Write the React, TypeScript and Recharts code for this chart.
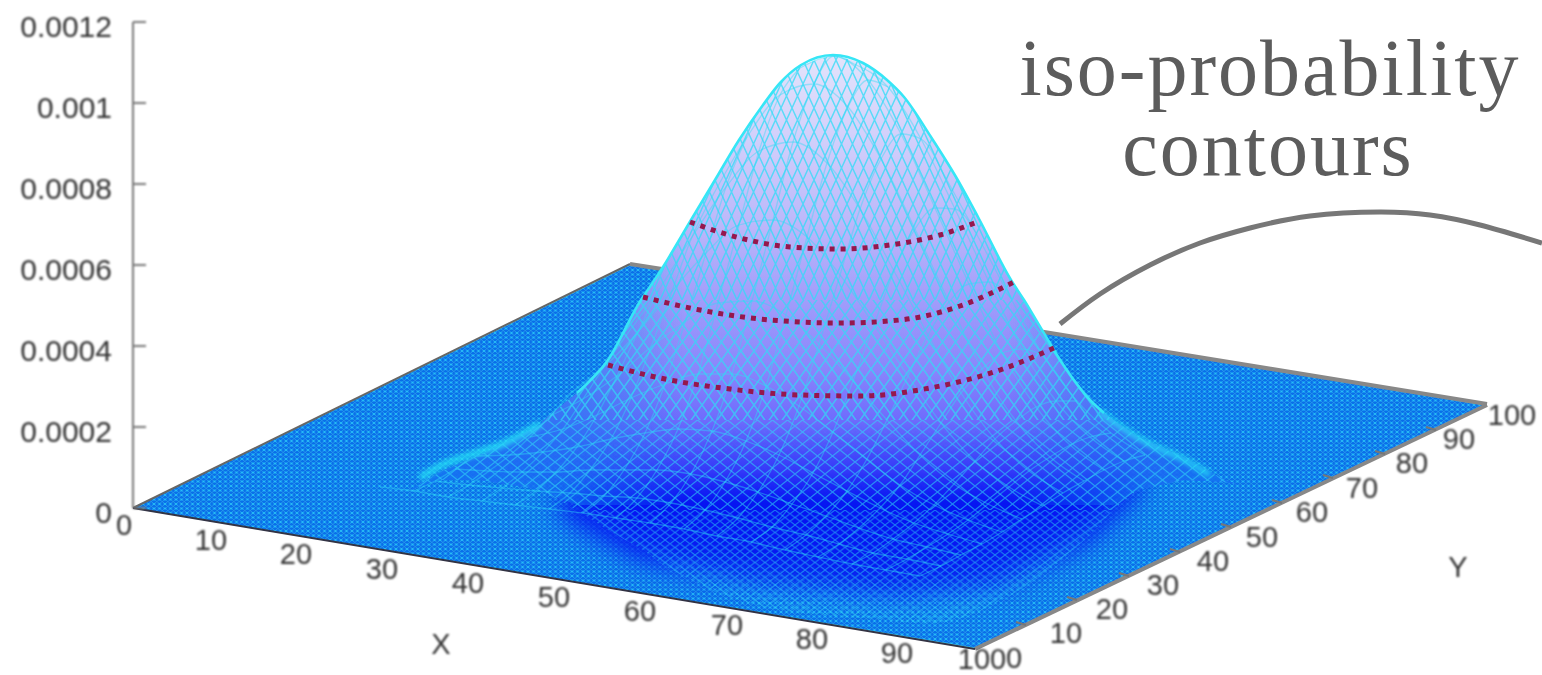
import { Area, ComposedChart, Line, Scatter, XAxis, YAxis } from "recharts";

// The original is a projected 3D surface, so everything is read off the picture
// in projected coordinates (x across, y down) and goes through hidden axes.

type Pt = [number, number];
const n = null;

const zTicks = [0, 0.0002, 0.0004, 0.0006, 0.0008, 0.001, 0.0012];
const xTickLabels = ["0", "10", "20", "30", "40", "50", "60", "70", "80", "90", "100"];
const xTickSpots: Pt[] = [[124, 525], [211, 540], [296, 554], [382, 569], [468, 583], [554, 597], [640, 611], [727, 625], [812, 639], [897, 653], [982, 659]];
const yTickLabels = ["0", "10", "20", "30", "40", "50", "60", "70", "80", "90", "100"];
const yTickSpots: Pt[] = [[1014, 658], [1066, 633], [1112, 609], [1163, 585], [1213, 561], [1262, 537], [1312, 512], [1362, 488], [1412, 463], [1459, 439], [1512, 415]];
const axisNames = ["X", "Y"];
const axisNameSpots: Pt[] = [[441, 644], [1458, 567]];

const floorEdges = [
  { x: 133, top: 508, bottom: 508 },
  { x: 630, top: 265, bottom: 591 },
  { x: 975, top: 321, bottom: 648 },
  { x: 1485, top: 405, bottom: 405 },
];
const backLeftEdge: Pt[] = [[133, 508], [630, 264]];
const backRightEdgeNear: Pt[] = [[630, 264], [662, 269]];
const backRightEdgeFar: Pt[] = [[1038, 331], [1487, 404]];
const frontLeftEdge: Pt[] = [[133, 508], [975, 649]];
const frontRightEdge: Pt[] = [[975, 649], [1487, 405]];
const yTickStubs: Pt[][] = [
  [[1026, 625], [1016, 622]], [[1077, 600], [1067, 597]], [[1129, 576], [1119, 573]],
  [[1180, 552], [1170, 549]], [[1231, 527], [1221, 524]], [[1282, 503], [1272, 500]],
  [[1333, 478], [1323, 475]], [[1385, 454], [1375, 451]], [[1436, 430], [1426, 427]],
];

const humpX = [410, 440, 480, 540, 544, 577, 608, 641, 643, 663, 691, 715, 739, 763, 780, 801, 833, 863, 887, 904, 931, 956, 978, 1011, 1024, 1042, 1062, 1090, 1104, 1113, 1138, 1183, 1225, 1240];
const humpTop = [490, 472, 455, 425, 420, 393, 360, 300, 297, 267, 220, 180, 140, 105, 83, 65, 55, 63, 80, 97, 137, 177, 217, 280, 300, 330, 363, 400, 413, 420, 437, 457, 480, 485];
const humpBottom = [490, 480, 480, 490, 492, 510, 530, 549, 550, 565, 580, 592, 600, 607, 610, 613, 616, 618, 620, 622, 624, 620, 612, 595, 587, 575, 560, 535, 520, 510, 490, 480, 482, 485];
const shadowX = [560, 640, 750, 900, 1000, 1090, 1140];
const shadowTop = [490, 450, 440, 440, 440, 440, 470];
const shadowBottom = [515, 560, 582, 596, 585, 540, 490];
const shadowSpine: Pt[] = [[640, 505], [770, 515], [900, 520], [1000, 510], [1070, 490]];
const leftStreak: Pt[] = [[420, 478], [440, 466], [470, 455], [505, 443], [540, 424]];
const rightStreak: Pt[] = [[1100, 412], [1135, 436], [1160, 449], [1185, 460], [1210, 475]];

// Surface grid, front rows first, one entry per column; n = hidden behind the ridge
const meshRows: (Pt | null)[][] = [
  [[380, 487], [414, 491], [448, 497], [482, 501], [515, 505], [549, 509], [583, 513], [616, 518], [650, 523], [684, 529], [717, 536], [751, 542], [785, 550], [818, 557], [852, 564], [886, 570], [920, 576]],
  [n, [435, 481], [469, 485], [502, 488], [536, 491], [570, 493], [604, 496], [637, 498], [671, 503], [705, 510], [738, 518], [772, 527], [806, 535], [839, 544], [873, 553], [907, 559], [941, 566]],
  [n, [455, 469], [489, 471], [522, 472], [556, 472], [590, 470], [624, 470], [657, 470], [691, 474], [725, 482], [758, 492], [792, 504], [826, 516], [859, 528], [893, 539], [927, 547], [961, 555]],
  [n, [476, 456], [510, 455], [543, 452], [577, 447], [611, 439], [645, 433], [678, 429], [712, 431], [746, 441], [779, 455], [813, 473], [847, 491], [880, 508], [914, 523], [948, 534], [982, 544]],
  [n, n, [530, 437], [563, 429], [597, 415], [631, 398], [665, 384], [698, 374], [732, 374], [766, 386], [799, 406], [833, 432], [867, 459], [900, 485], [934, 505], [968, 520], [1002, 532]],
  [n, n, [550, 416], [583, 399], [617, 376], [651, 347], [685, 322], [718, 303], [752, 301], [786, 315], [819, 344], [853, 381], [887, 420], [920, 455], [954, 484], [988, 504], [1022, 519]],
  [n, n, [571, 393], [604, 367], [638, 332], [672, 291], [706, 253], [739, 225], [773, 220], [807, 237], [840, 275], [874, 325], [908, 376], [941, 423], [975, 461], [1009, 487], [1043, 506]],
  [n, n, n, [625, 337], [658, 291], [692, 237], [726, 187], [759, 151], [793, 142], [827, 163], [860, 209], [894, 271], [928, 335], [961, 393], [995, 439], [1029, 471], [1063, 493]],
  [n, n, n, n, n, [713, 195], [747, 137], [780, 95], [814, 84], [848, 107], [881, 159], [915, 229], [949, 302], [982, 369], [1016, 421], [1050, 457], [1084, 481]],
  [n, n, n, n, n, n, n, [800, 68], [834, 56], [868, 80], [901, 134], [935, 208], [969, 284], [1002, 353], [1036, 407], [1070, 445], [1104, 470]],
  [n, n, n, n, n, n, n, n, [854, 64], [888, 87], [921, 139], [955, 209], [989, 282], [1022, 349], [1056, 401], [1090, 437], [1124, 461]],
  [n, n, n, n, n, n, n, n, n, n, [942, 171], [976, 233], [1010, 297], [1043, 355], [1077, 401], [1111, 433], [1145, 455]],
];

const isoContours: Pt[][] = [
  [[690, 222], [740, 238], [790, 247], [840, 249], [890, 245], [940, 235], [980, 221]],
  [[643, 297], [700, 310], [760, 319], [840, 323], [900, 320], [960, 306], [1016, 281]],
  [[608, 365], [660, 378], [730, 389], [800, 395], [860, 396], [930, 388], [1000, 370], [1054, 348]],
];
const leaderCurve: Pt[] = [[1060, 324], [1100, 294], [1150, 265], [1200, 243], [1250, 228], [1310, 216], [1380, 212], [1430, 215], [1480, 225], [1542, 243]];
const noteLines = ["iso-probability", "contours"];
const noteSpots: Pt[] = [[1270, 95], [1268, 175]];

const WIDTH = 1542;
const HEIGHT = 675;
const LABEL_FONT = "'Liberation Sans', Arial, sans-serif";

const toRows = (pts: Pt[]) => pts.map(([x, y]) => ({ x, y }));
const labelRows = (labels: string[], spots: Pt[]) =>
  labels.map((label, i) => ({ x: spots[i][0], y: spots[i][1], label }));

const shadowRows = shadowX.map((x, i) => ({ x, band: [shadowBottom[i], shadowTop[i]] }));
const floorRows = floorEdges.map((e) => ({ x: e.x, band: [e.bottom, e.top] }));
const outlineRows = toRows(
  humpX.map((x, i): Pt => [x, humpTop[i]]).filter(([x]) => x >= 577 && x <= 1104),
);

// one slice of the hump between two heights, zero-thick where it does not reach
const humpSlice = (from: number, to: number) =>
  humpX.map((x, i) => {
    const low = Math.max(Math.min(humpBottom[i], to), from);
    return { x, band: [low, Math.min(low, Math.max(humpTop[i], from))] };
  });

const meshColumns = meshRows[0].map((_, c) =>
  meshRows.map((row) => row[c]).filter((p): p is Pt => p !== null),
);
const meshCurves = [
  ...meshRows.map((row) => row.filter((p): p is Pt => p !== null)),
  ...meshColumns,
].filter((c) => c.length > 1);

const frameAxes = [
  <XAxis key="x" type="number" dataKey="x" domain={[0, WIDTH]} hide />,
  <YAxis key="y" type="number" dataKey="y" domain={[0, HEIGHT]} reversed hide />,
];
const FRAME = { width: WIDTH, height: HEIGHT, margin: { top: 0, right: 0, bottom: 0, left: 0 } };
const layer = (blur?: number) =>
  ({ position: "absolute", left: 0, top: 0, filter: blur ? `blur(${blur}px)` : undefined }) as const;

function SurfaceLabel(props: any) {
  const { cx, cy, payload } = props;
  return (
    <text x={cx} y={cy + 10} textAnchor="middle" fontFamily={LABEL_FONT} fontSize={29} fill="#333">
      {payload.label}
    </text>
  );
}

function NoteLabel(props: any) {
  const { cx, cy, payload } = props;
  return (
    <text x={cx} y={cy} textAnchor="middle" fontFamily="'Liberation Serif', serif" fontSize={80} letterSpacing={2} fill="#5c5c5c">
      {payload.label}
    </text>
  );
}

function ZTick(props: any) {
  const { y, payload } = props;
  return (
    <g>
      <line x1={133} x2={146} y1={y} y2={y} stroke="#777" strokeWidth={2} />
      <text x={112} y={y + 15} textAnchor="end" fontFamily={LABEL_FONT} fontSize={30} fill="#333">
        {String(payload.value)}
      </text>
    </g>
  );
}

const edge = (pts: Pt[], stroke: string, strokeWidth: number, key?: number) => (
  <Line key={key} data={toRows(pts)} dataKey="y" stroke={stroke} strokeWidth={strokeWidth} dot={false} activeDot={false} isAnimationActive={false} />
);
const sliceArea = (from: number, to: number, fill: string) => (
  <Area key={fill} data={humpSlice(from, to)} dataKey="band" stroke="none" fill={`url(#${fill})`} fillOpacity={1} dot={false} activeDot={false} isAnimationActive={false} />
);
const tile = (id: string, w: number, h: number, opacity: number, lineWidth: number) => (
  <pattern key={id} id={id} width={w} height={h} patternUnits="userSpaceOnUse">
    <path d={`M0 ${h / 2}L${w / 2} 0L${w} ${h / 2}L${w / 2} ${h}Z`} fill="none" stroke="#2fdcf6" strokeOpacity={opacity} strokeWidth={lineWidth} />
  </pattern>
);

export default function App() {
  return (
    <div style={{ position: "absolute", left: 0, top: 0, width: WIDTH, height: HEIGHT, overflow: "hidden", background: "#fff" }}>
      <div style={layer(0.5)}>
        <ComposedChart {...FRAME}>
          <defs>
            <pattern id="floorWeave" width="5.5" height="4.5" patternUnits="userSpaceOnUse">
              <rect width="5.5" height="4.5" fill="#0870ea" />
              <circle cx="2.75" cy="2.25" r="1.4" fill="#0028d8" />
              <path d="M0 0L5.5 4.5M5.5 0L0 4.5" stroke="#30d0f8" strokeWidth="0.8" />
            </pattern>
          </defs>
          {frameAxes}
          {edge(backLeftEdge, "#666", 2)}
          {edge(backRightEdgeNear, "#888", 4)}
          {edge(backRightEdgeFar, "#888", 4)}
          {edge(frontRightEdge, "#888", 4)}
          {edge(frontLeftEdge, "#334", 2)}
          {yTickStubs.map((stub, i) => edge(stub, "#777", 2, i))}
          <Area data={floorRows} dataKey="band" stroke="#35d8f8" strokeWidth={0.8} fill="url(#floorWeave)" fillOpacity={1} dot={false} activeDot={false} isAnimationActive={false} />
        </ComposedChart>
      </div>
      <div style={layer(0.9)}>
        <ComposedChart {...FRAME}>
          {frameAxes}
          <Scatter data={labelRows(xTickLabels, xTickSpots)} shape={<SurfaceLabel />} isAnimationActive={false} />
          <Scatter data={labelRows(yTickLabels, yTickSpots)} shape={<SurfaceLabel />} isAnimationActive={false} />
          <Scatter data={labelRows(axisNames, axisNameSpots)} shape={<SurfaceLabel />} isAnimationActive={false} />
        </ComposedChart>
      </div>
      <div style={layer(0.9)}>
        <ComposedChart width={150} height={HEIGHT} margin={{ top: 22, bottom: 167, left: 0, right: 0 }}>
          <XAxis type="number" dataKey="x" domain={[0, 1]} hide />
          <YAxis
            type="number"
            dataKey="z"
            width={133}
            domain={[0, 0.0012]}
            ticks={zTicks}
            interval={0}
            tickLine={false}
            axisLine={{ stroke: "#777", strokeWidth: 2 }}
            tick={<ZTick />}
          />
          <Line data={zTicks.map((z) => ({ x: 0, z }))} dataKey="z" stroke="none" dot={false} activeDot={false} isAnimationActive={false} />
        </ComposedChart>
      </div>
      <div style={layer(14)}>
        <ComposedChart {...FRAME}>
          {frameAxes}
          <Area data={shadowRows} dataKey="band" stroke="none" fill="#0612f2" fillOpacity={0.92} dot={false} activeDot={false} isAnimationActive={false} />
          <Line data={toRows(shadowSpine)} dataKey="y" type="monotone" stroke="#0612f2" strokeWidth={40} strokeLinecap="round" dot={false} activeDot={false} isAnimationActive={false} />
        </ComposedChart>
      </div>
      <div style={layer(0.5)}>
        <ComposedChart {...FRAME}>
          <defs>
            {tile("weaveTop", 11, 24, 0.75, 1.5)}
            {tile("weaveMid", 13, 18, 0.7, 1.5)}
            {tile("weaveLow", 15, 12, 0.55, 1.2)}
            {tile("weaveFront", 10, 7.5, 0.5, 1)}
            <linearGradient id="humpShade" x1="0" y1="0" x2="0" y2="1">
              <stop offset="0.01" stopColor="#e2e2fb" />
              <stop offset="0.13" stopColor="#d4d2fb" />
              <stop offset="0.295" stopColor="#bcb8fa" />
              <stop offset="0.435" stopColor="#a09cfb" />
              <stop offset="0.55" stopColor="#8a86fc" />
              <stop offset="0.64" stopColor="#6f6cfd" />
              <stop offset="0.73" stopColor="#4444fb" stopOpacity="0.75" />
              <stop offset="0.79" stopColor="#3030fa" stopOpacity="0" />
            </linearGradient>
            <linearGradient id="skirtShade" x1="0" y1="0" x2="1" y2="0">
              <stop offset="0" stopColor="#0f78f0" stopOpacity="0.9" />
              <stop offset="0.2" stopColor="#0f78f0" stopOpacity="0.55" />
              <stop offset="0.33" stopColor="#0f78f0" stopOpacity="0" />
              <stop offset="0.72" stopColor="#0f78f0" stopOpacity="0" />
              <stop offset="0.85" stopColor="#0f78f0" stopOpacity="0.5" />
              <stop offset="1" stopColor="#0f78f0" stopOpacity="0.9" />
            </linearGradient>
          </defs>
          {frameAxes}
          {sliceArea(55, 624, "humpShade")}
          {sliceArea(55, 505, "skirtShade")}
          {sliceArea(55, 300, "weaveTop")}
          {sliceArea(300, 420, "weaveMid")}
          {sliceArea(420, 510, "weaveLow")}
          {sliceArea(510, 625, "weaveFront")}
          {meshCurves.map((curve, i) => (
            <Line key={i} data={toRows(curve)} dataKey="y" type="monotone" stroke="#2fdcf6" strokeOpacity={0.42} strokeWidth={1.3} dot={false} activeDot={false} isAnimationActive={false} />
          ))}
          <Line data={outlineRows} dataKey="y" type="monotone" stroke="#36e6f6" strokeWidth={2.6} dot={false} activeDot={false} isAnimationActive={false} />
        </ComposedChart>
      </div>
      <div style={layer(2.5)}>
        <ComposedChart {...FRAME}>
          {frameAxes}
          <Line data={toRows(leftStreak)} dataKey="y" type="monotone" stroke="#25e4f6" strokeOpacity={0.8} strokeWidth={7} dot={false} activeDot={false} isAnimationActive={false} />
          <Line data={toRows(rightStreak)} dataKey="y" type="monotone" stroke="#25e4f6" strokeOpacity={0.7} strokeWidth={7} dot={false} activeDot={false} isAnimationActive={false} />
        </ComposedChart>
      </div>
      <div style={layer()}>
        <ComposedChart {...FRAME}>
          {frameAxes}
          {isoContours.map((curve, i) => (
            <Line key={i} data={toRows(curve)} dataKey="y" type="monotone" stroke="#96174d" strokeWidth={5} strokeDasharray="5 6" dot={false} activeDot={false} isAnimationActive={false} />
          ))}
          <Line data={toRows(leaderCurve)} dataKey="y" type="natural" stroke="#777" strokeWidth={5} dot={false} activeDot={false} isAnimationActive={false} />
          <Scatter data={labelRows(noteLines, noteSpots)} shape={<NoteLabel />} isAnimationActive={false} />
        </ComposedChart>
      </div>
    </div>
  );
}
